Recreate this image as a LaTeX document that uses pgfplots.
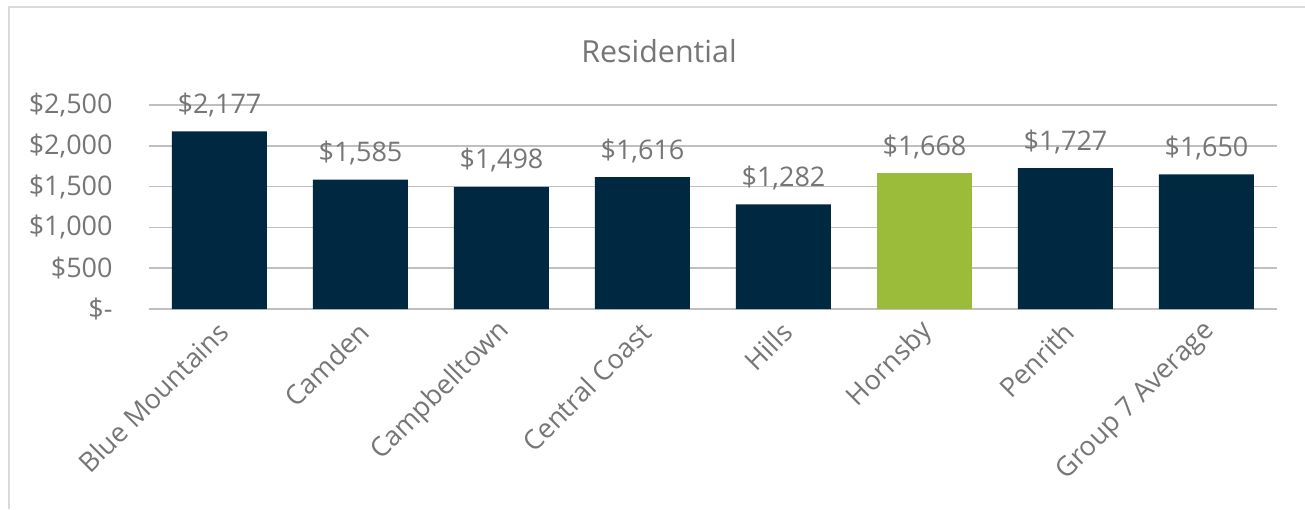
\documentclass[border=0pt]{standalone}
\usepackage{pgfplots}
\pgfplotsset{compat=1.18}
\usepackage{fontspec}
\setmainfont{Open Sans}
\definecolor{navy}{RGB}{0,40,64}
\definecolor{lime}{RGB}{155,187,59}
\definecolor{txt}{RGB}{118,118,118}
\definecolor{grid}{RGB}{217,217,217}
\begin{document}
\begin{tikzpicture}[font=\fontsize{13.5}{16}\selectfont]
\useasboundingbox (0,0) rectangle (652.5pt,254.5pt);
\fill[white] (0,0) rectangle (652.5pt,254.5pt);
\draw[grid,line width=0.8pt] (4.5pt,0) -- (4.5pt,251pt) -- (652.5pt,251pt);
\node[txt,font=\fontsize{15.2}{18}\selectfont] at (329.5pt,229pt) {Residential};
\begin{axis}[
  at={(74.5pt,100pt)}, anchor=south west,
  scale only axis, width=564pt, height=102pt,
  xmin=-0.5, xmax=7.5, ymin=0, ymax=2500,
  axis line style={draw=none},
  ytick={0,500,1000,1500,2000,2500},
  yticklabels={{\$-},{\$500},{\$1,000},{\$1,500},{\$2,000},{\$2,500}},
  xmajorgrids=false, ymajorgrids=true, grid style={grid,line width=0.8pt},
  major tick length=0pt, tick style={draw=none},
  xtick={0,...,7},
  xticklabels={Blue Mountains,Camden,Campbelltown,Central Coast,Hills,Hornsby,Penrith,Group 7 Average},
  xticklabel style={xshift=2pt,yshift=-9pt,rotate=45,anchor=east,txt,inner sep=0pt},
  yticklabel style={txt,anchor=east,inner sep=0pt,xshift=-18pt},
  ybar, bar width=47.5pt, bar shift=0pt,
  nodes near coords,
  point meta=explicit symbolic,
  every node near coord/.append style={txt,inner sep=0pt,yshift=7pt,anchor=south},
  clip=false,
]
\addplot[fill=navy,draw=none] coordinates {
 (0,2177) [\$2,177]
 (1,1585) [\$1,585]
 (2,1498) [\$1,498]
 (3,1616) [\$1,616]
 (4,1282) [\$1,282]
 (6,1727) [\$1,727]
 (7,1650) [\$1,650]
};
\addplot[fill=lime,draw=none] coordinates {
 (5,1668) [\$1,668]
};
\end{axis}
\end{tikzpicture}
\end{document}
